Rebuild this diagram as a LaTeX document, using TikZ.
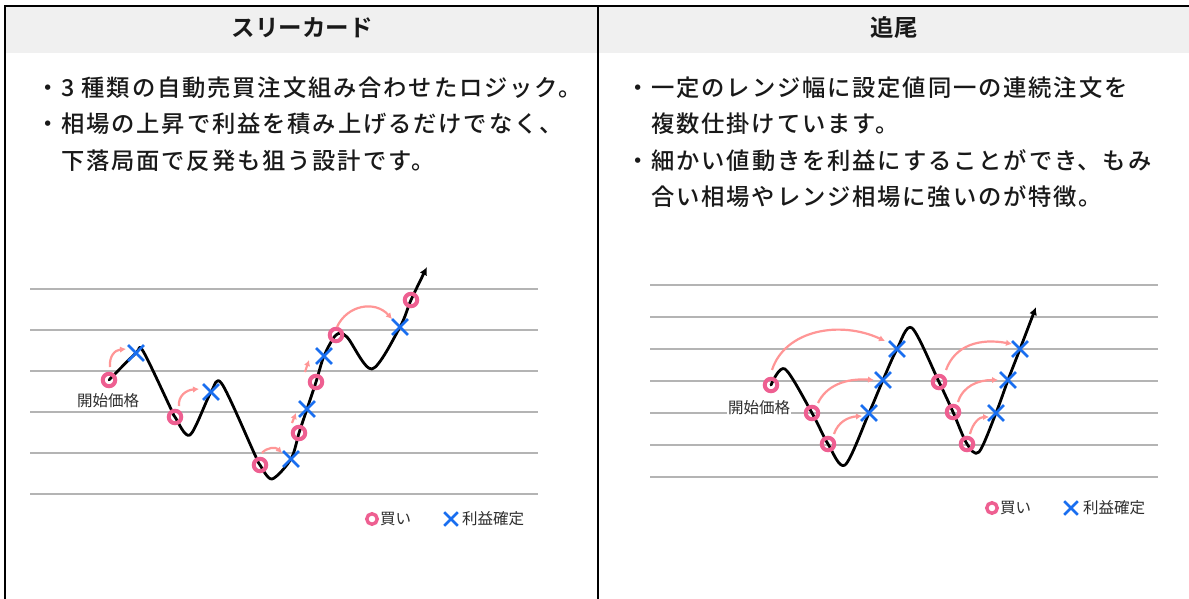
\documentclass[tikz,border=0pt]{standalone}
\usepackage{fontspec}
\setmainfont{Noto Sans CJK JP}[BoldFont={Noto Sans CJK JP Bold}]
\newfontfamily\bodyfont{Noto Sans CJK JP Medium}[LetterSpace=8]
\usetikzlibrary{shapes.misc,arrows.meta,calc}
\definecolor{ringpink}{RGB}{238,95,145}
\definecolor{xblue}{RGB}{25,110,240}
\definecolor{arrowpink}{RGB}{255,150,150}
\definecolor{gridgray}{RGB}{180,180,180}
\definecolor{hdrgray}{RGB}{240,240,240}
\definecolor{txt}{RGB}{25,25,25}
\definecolor{lbl}{RGB}{45,45,45}
\tikzset{
  border/.style={draw=black, line width=2.8pt},
  gridline/.style={draw=gridgray, line width=1.4pt},
  hdr/.style={font=\fontsize{23.5}{26}\selectfont\bfseries, text=txt, inner sep=0pt},
  body/.style={font=\bodyfont\fontsize{23.3}{26}\selectfont, text=txt, inner sep=0pt, anchor=base west},
  lbltext/.style={font=\fontsize{15.5}{18}\selectfont, text=lbl, inner sep=1pt},
  buy/.style={circle, draw=ringpink, line width=4pt, minimum size=12.5pt, inner sep=0pt},
  sell/.style={cross out, draw=xblue, line width=2.8pt, minimum size=13pt, inner sep=0pt},
  gain/.style={draw=arrowpink, line width=2.2pt, -{Latex[length=6pt,width=6.5pt]}},
  price/.style={draw=black, line width=2.8pt, line cap=round, line join=round, -{Latex[length=8pt,width=8pt]}},
}
\begin{document}
\begin{tikzpicture}[x=1pt,y=-1pt]
\useasboundingbox (0,0) rectangle (1189,599);
\fill[white] (0,0) rectangle (1189,599);
\fill[hdrgray] (5,6) rectangle (1189,53);
\draw[border] (5,599) -- (5,6) -- (1189,6);
\draw[border] (598,6) -- (598,599);
% headers
\node[hdr] (h1) at (302,28) {スリーカード};
\node[hdr] (h2) at (894,28) {追尾};
% body text
\node[body] (t1) at (36,97) {・3 種類の自動売買注文組み合わせたロジック。};
\node[body] (t2) at (36,133) {・相場の上昇で利益を積み上げるだけでなく、};
\node[body] (t3) at (61,169) {下落局面で反発も狙う設計です。};
\node[body] (u1) at (626,97) {・一定のレンジ幅に設定値同一の連続注文を};
\node[body] (u2) at (651,133) {複数仕掛けています。};
\node[body] (u3) at (626,169) {・細かい値動きを利益にすることができ、もみ};
\node[body] (u4) at (651,205) {合い相場やレンジ相場に強いのが特徴。};
% grid lines
\foreach \yy in {289,330,371,412,453,494} \draw[gridline] (30,\yy) -- (538,\yy);
\foreach \yy in {285,317,349,381,413,445,477} \draw[gridline] (650,\yy) -- (1158,\yy);
% left chart coordinates
\coordinate (lc1) at (109,380);
\coordinate (lx1) at (136,353);
\coordinate (lc2) at (175,417);
\coordinate (lx2) at (211,392);
\coordinate (lc3) at (260,465);
\coordinate (lx3) at (291,459);
\coordinate (lc4) at (299,433);
\coordinate (lx4) at (307,409);
\coordinate (lc5) at (316,382);
\coordinate (lx5) at (324,356);
\coordinate (lc6) at (336,335);
\coordinate (lx6) at (400,327);
\coordinate (lc7) at (411,300);
\coordinate (lend) at (427,267);
\draw[price] plot[smooth, tension=0.5] coordinates {(lc1) (lx1) (143,351) (171,409) (lc2) (190,435) (lx2) (222,384) (255,455) (lc3) (272,479) (lx3) (lc4) (lx4) (lc5) (lx5) (lc6) (347,337) (372,369) (lx6) (lc7) (lend)};
% right chart coordinates
\coordinate (rc1) at (771,385);
\coordinate (rc2) at (812,413);
\coordinate (rc3) at (828,444);
\coordinate (rx1) at (869,413);
\coordinate (rx2) at (883,380);
\coordinate (rx3) at (897,349);
\coordinate (rc4) at (939,382);
\coordinate (rc5) at (953,412);
\coordinate (rc6) at (967,444);
\coordinate (rx4) at (996,413);
\coordinate (rx5) at (1008,380);
\coordinate (rx6) at (1020,349);
\coordinate (rend) at (1036,307);
% start labels
\node[lbltext] (s1) at (108,401) {開始価格};
\node[lbltext, fill=white] (s2) at (759,408) {開始価格};
\draw[price] plot[smooth, tension=0.5] coordinates {(rc1) (785,369) (rc2) (rc3) (845,465) (rx1) (rx2) (rx3) (912,328) (rc4) (rc5) (rc6) (979,452) (rx4) (rx5) (rx6) (rend)};
% markers left
\foreach \n in {1,...,7} \node[buy] (bl\n) at (lc\n) {};
\foreach \n in {1,...,6} \node[sell] (sl\n) at (lx\n) {};
% markers right
\foreach \n in {1,...,6} \node[buy] (br\n) at (rc\n) {};
\foreach \n in {1,...,6} \node[sell] (sr\n) at (rx\n) {};
% profit arrows left
\draw[gain] ($(bl1)+(1,-13)$) .. controls ($(bl1)+(0,-24)$) and ($(bl1)+(6,-30)$) .. ($(sl1)+(-10,-4)$);
\draw[gain] ($(bl2)+(4,-11)$) .. controls ($(bl2)+(3,-21)$) and ($(bl2)+(11,-27)$) .. ($(sl2)+(-12,-3)$);
\draw[gain] ($(bl3)+(2,-12)$) .. controls ($(bl3)+(7,-18)$) and ($(bl3)+(16,-18)$) .. ($(sl3)+(-9,-6)$);
\draw[gain] ($(bl4)+(-7,-10)$) -- ($(sl4)+(-11,4)$);
\draw[gain] ($(bl5)+(-11,-10)$) -- ($(sl5)+(-15,4)$);
\draw[gain] ($(bl6)+(1,-8)$) .. controls ($(bl6)+(11,-30)$) and ($(bl6)+(39,-35)$) .. ($(sl6)+(-8,-8)$);
% profit arrows right
\draw[gain] ($(br1)+(1,-15)$) .. controls ($(br1)+(14,-55)$) and ($(br1)+(69,-65)$) .. ($(sr3)+(-12,-8)$);
\draw[gain] ($(br2)+(6,-10)$) .. controls ($(br2)+(14,-27)$) and ($(br2)+(33,-35)$) .. ($(sr2)+(-9,0)$);
\draw[gain] ($(br3)+(6,-10)$) .. controls ($(br3)+(10,-22)$) and ($(br3)+(20,-27)$) .. ($(sr1)+(-7,3)$);
\draw[gain] ($(br4)+(7,-12)$) .. controls ($(br4)+(16,-37)$) and ($(br4)+(41,-44)$) .. ($(sr6)+(-8,-5)$);
\draw[gain] ($(br5)+(5,-10)$) .. controls ($(br5)+(10,-26)$) and ($(br5)+(25,-32)$) .. ($(sr5)+(-10,0)$);
\draw[gain] ($(br6)+(3,-10)$) .. controls ($(br6)+(6,-22)$) and ($(br6)+(13,-27)$) .. ($(sr4)+(-7,4)$);
% legends
\node[buy, minimum size=10.5pt, line width=3.4pt] (lgb1) at (372,519) {};
\node[lbltext, anchor=west] (lgt1) at (379,519) {買い};
\node[sell, minimum size=11pt, line width=2.6pt] (lgs1) at (451,519) {};
\node[lbltext, anchor=west] (lgt2) at (461,519) {利益確定};
\node[buy, minimum size=10.5pt, line width=3.4pt] (lgb2) at (992,508) {};
\node[lbltext, anchor=west] (lgt3) at (999,508) {買い};
\node[sell, minimum size=11pt, line width=2.6pt] (lgs2) at (1071,508) {};
\node[lbltext, anchor=west] (lgt4) at (1082,508) {利益確定};
\end{tikzpicture}
\end{document}
